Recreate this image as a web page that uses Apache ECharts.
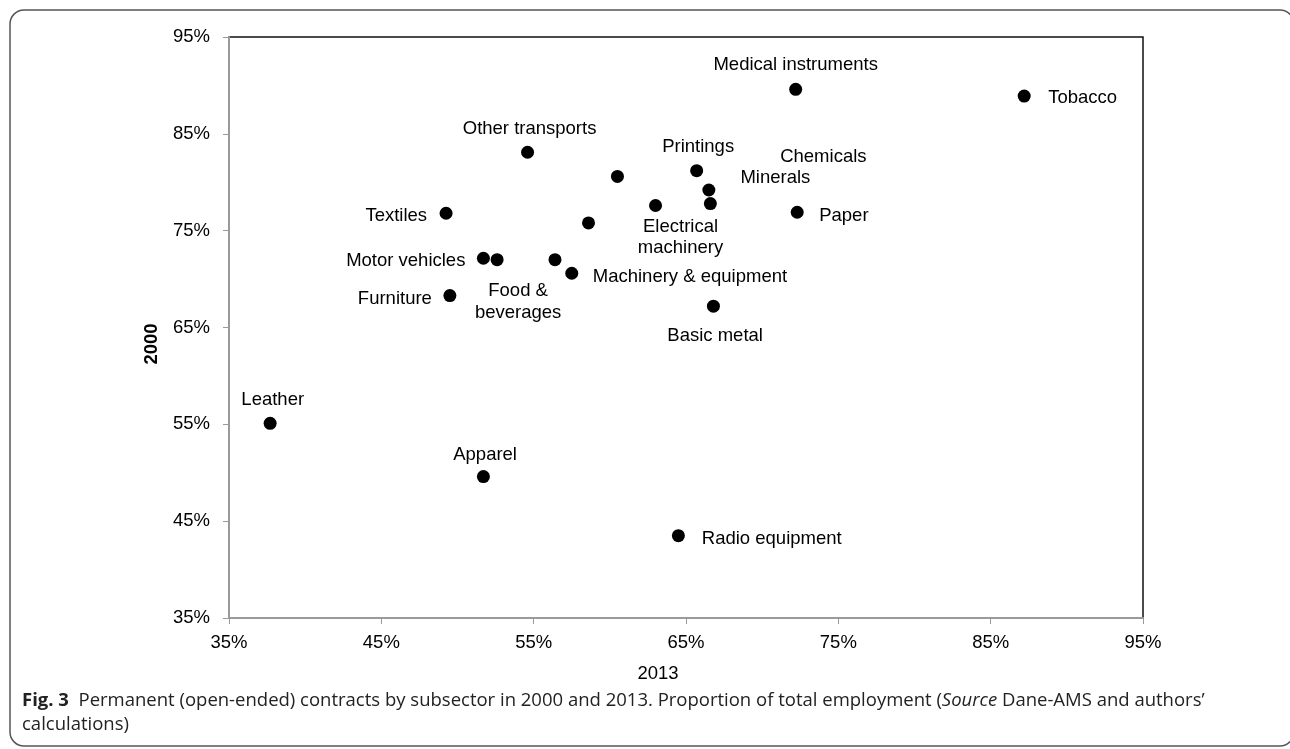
<!DOCTYPE html>
<html>
<head>
<meta charset="utf-8">
<script src="https://cdn.jsdelivr.net/npm/echarts@6/dist/echarts.min.js"></script>
<style>
html,body{margin:0;padding:0;background:#fff;}
#chart{width:1290px;height:749px;}
</style>
</head>
<body>
<div id="chart"></div>
<script>
// ---- data ----
const sectors = [
  'Medical instruments', 'Tobacco', 'Other transports', '', 'Printings',
  'Chemicals', 'Minerals', 'Electrical\nmachinery', 'Paper', 'Textiles',
  '', 'Motor vehicles', 'Food &\nbeverages', '', 'Machinery & equipment',
  'Furniture', 'Basic metal', 'Leather', 'Apparel', 'Radio equipment'
];
const share2013 = [72.2, 87.2, 54.6, 60.5, 65.7, 66.5, 66.6, 63.0, 72.3, 49.25,
  58.6, 51.7, 52.6, 56.4, 57.5, 49.5, 66.8, 37.7, 51.7, 64.5];
const share2000 = [89.6, 88.9, 83.1, 80.6, 81.2, 79.2, 77.8, 77.6, 76.9, 76.8,
  75.8, 72.15, 72.0, 72.0, 70.6, 68.3, 67.2, 55.1, 49.6, 43.5];
const xTicks = [35, 45, 55, 65, 75, 85, 95];
const yTicks = [35, 45, 55, 65, 75, 85, 95];
const xTitle = '2013';
const yTitle = '2000';

// ---- label placement (style, not data) ----
const place = {
  'Medical instruments': ['center', 0, -24],
  'Tobacco': ['left', 24, 2],
  'Other transports': ['center', 2, -23],
  'Printings': ['center', 1.5, -23.5],
  'Chemicals': ['center', 114.5, -33],
  'Minerals': ['center', 65, -25.5],
  'Electrical\nmachinery': ['center', 25, 32],
  'Paper': ['left', 22, 4],
  'Textiles': ['right', -19, 3],
  'Motor vehicles': ['right', -18, 2.7],
  'Food &\nbeverages': ['center', 21, 42],
  'Machinery & equipment': ['left', 21, 3.7],
  'Furniture': ['right', -18, 3],
  'Basic metal': ['center', 1.7, 29.7],
  'Leather': ['center', 2.6, -23.3],
  'Apparel': ['center', 1.7, -21.7],
  'Radio equipment': ['left', 23.4, 3.3]
};

const FONT = '"Liberation Sans", Arial, sans-serif';
const CAP = '"Open Sans", sans-serif';
const points = sectors.map((name, i) => {
  const p = place[name];
  const item = { name: name, value: [share2013[i], share2000[i]] };
  if (p) {
    item.label = {
      show: true, position: 'inside', align: p[0], verticalAlign: 'middle',
      offset: [p[1], p[2]], formatter: name, color: '#000'
    };
  }
  return item;
});

const chart = echarts.init(document.getElementById('chart'), null, { renderer: 'canvas' });
chart.setOption({
  animation: false,
  backgroundColor: '#fff',
  grid: { left: 229, right: 147, top: 37, bottom: 131, show: true, borderColor: '#111', borderWidth: 1.5, backgroundColor: 'transparent' },
  xAxis: {
    type: 'value', min: xTicks[0], max: xTicks[xTicks.length - 1], interval: 10,
    axisLine: { show: true, lineStyle: { color: '#9a9a9a', width: 2 } },
    axisTick: { show: true, inside: false, length: 6, lineStyle: { color: '#9a9a9a', width: 1 } },
    axisLabel: { margin: 15, color: '#000', fontSize: 18.5, fontFamily: FONT, formatter: '{value}%' },
    splitLine: { show: false }
  },
  yAxis: {
    type: 'value', min: yTicks[0], max: yTicks[yTicks.length - 1], interval: 10,
    axisLine: { show: true, lineStyle: { color: '#9a9a9a', width: 2 } },
    axisTick: { show: true, inside: false, length: 6, lineStyle: { color: '#9a9a9a', width: 1 } },
    axisLabel: { margin: 19, color: '#000', fontSize: 18.5, fontFamily: FONT, formatter: '{value}%' },
    splitLine: { show: false }
  },
  series: [{
    type: 'scatter',
    symbol: 'circle',
    symbolSize: 13,
    itemStyle: { color: '#000', opacity: 1 },
    label: { show: false, color: '#000', fontSize: 18.5, fontFamily: FONT, lineHeight: 21.5 },
    emphasis: { disabled: true },
    data: points
  }],
  graphic: [
    { type: 'rect', shape: { x: 10, y: 10, width: 1284, height: 736, r: 14 },
      style: { fill: 'none', stroke: '#555', lineWidth: 1.5 }, silent: true, z: -1 },
    { type: 'text', x: 658, y: 674, style: { text: xTitle, fill: '#000', font: '18.5px ' + FONT, textAlign: 'center', textVerticalAlign: 'middle' } },
    { type: 'text', x: 152, y: 344, rotation: Math.PI / 2, style: { text: yTitle, fill: '#000', font: 'bold 18.5px ' + FONT, textAlign: 'center', textVerticalAlign: 'middle' } },
    { type: 'text', x: 22, y: 701, style: {
        text: '{b|Fig. 3}  Permanent (open-ended) contracts by subsector in 2000 and 2013. Proportion of total employment ({i|Source} Dane-AMS and authors’',
        fill: '#222', font: '18.5px ' + CAP, textVerticalAlign: 'middle',
        rich: { b: { fontWeight: 'bold', fontFamily: CAP, fontSize: 18.5, fill: '#222' },
                i: { fontStyle: 'italic', fontFamily: CAP, fontSize: 18.5, fill: '#222' } }
      } },
    { type: 'text', x: 22, y: 725, style: { text: 'calculations)', fill: '#222', font: '18.5px ' + CAP, textVerticalAlign: 'middle' } }
  ]
});
</script>
</body>
</html>
